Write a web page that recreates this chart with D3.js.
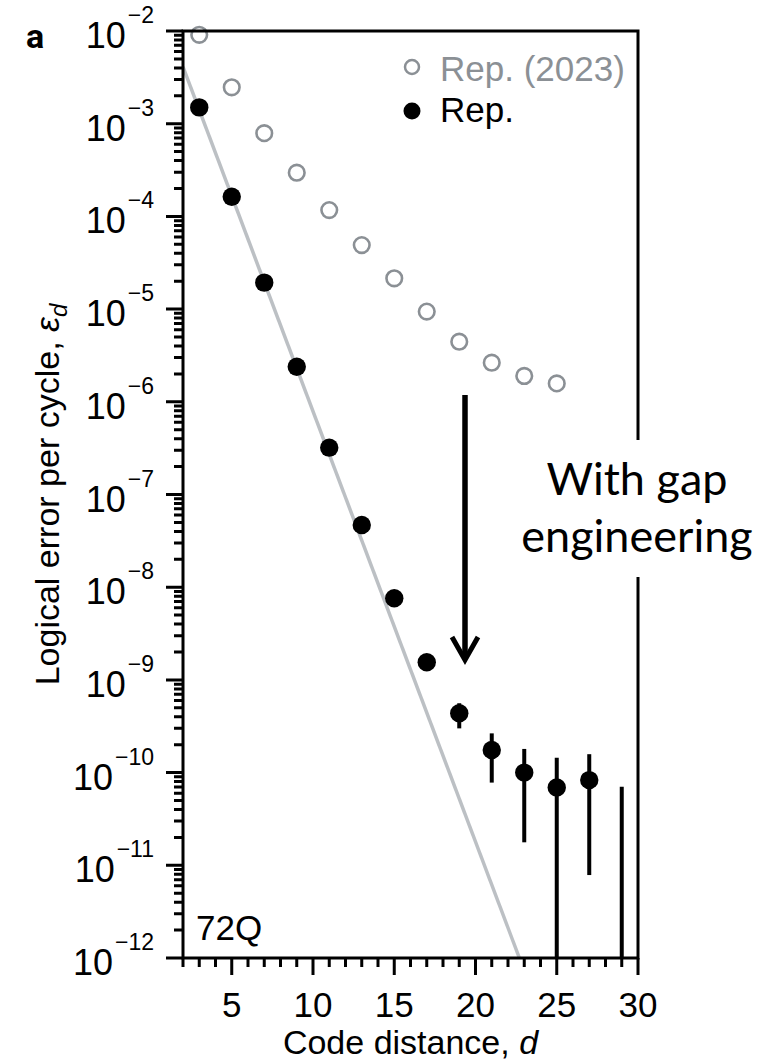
<!DOCTYPE html>
<html>
<head>
<meta charset="utf-8">
<script src="https://cdn.jsdelivr.net/npm/d3@7"></script>
<style>
  body { margin: 0; background: #fff; }
  svg { display: block; }
  svg text { font-family: "Liberation Sans", Arial, sans-serif; }
</style>
</head>
<body>
<svg class="chart" width="768" height="1064"></svg>
<script>
// code distance on x, logical error per cycle on y
var xDomain = [2, 30];
var yDomain = [1e-12, 1e-2];
var xMajorTicks = [5, 10, 15, 20, 25, 30];
var yMajorExponents = [-12, -11, -10, -9, -8, -7, -6, -5, -4, -3, -2];

// Rep. (2023), open circles
var oldDistances = [3, 5, 7, 9, 11, 13, 15, 17, 19, 21, 23, 25];
var oldErrors = [9.1e-3, 2.47e-3, 7.9e-4, 2.96e-4, 1.17e-4, 4.9e-5, 2.15e-5, 9.4e-6, 4.45e-6, 2.64e-6, 1.9e-6, 1.58e-6];

// Rep., filled circles with error bars (null = no visible bar / no point)
var repDistances = [3, 5, 7, 9, 11, 13, 15, 17, 19, 21, 23, 25, 27, 29];
var repErrors = [1.5e-3, 1.63e-4, 1.93e-5, 2.39e-6, 3.2e-7, 4.69e-8, 7.59e-9, 1.55e-9, 4.36e-10, 1.75e-10, 1.0e-10, 6.9e-11, 8.3e-11, null];
var repUpper = [null, null, null, null, null, null, null, null, 5.6e-10, 2.65e-10, 1.8e-10, 1.45e-10, 1.58e-10, 7.05e-11];
var repLower = [null, null, null, null, null, null, null, null, 3.0e-10, 7.8e-11, 1.77e-11, 1e-13, 7.85e-12, 1e-13];

// exponential fit (gray line), two end points
var fitDistances = [2, 22.7];
var fitErrors = [4.1e-3, 1e-12];

var legendLabels = ['Rep. (2023)', 'Rep.'];
var noteLines = ['With gap', 'engineering'];

(function() {
  var grey = '#8b9095';
  var svg = d3.select('.chart');

  var x0 = 183, x1 = 638, y0 = 31, y1 = 958;

  var x = d3.scaleLinear().domain(xDomain).range([x0, x1]);
  var y = d3.scaleLog().domain(yDomain).range([y1, y0]);

  // tick marks, one path built from the scales
  var yTicks = y.ticks(50).map(function(v) {
    var l = Math.log10(v);
    return { v: v, major: Math.abs(l - Math.round(l)) < 1e-6 };
  });
  var xTicks = d3.range(xDomain[0], xDomain[1] + 1).map(function(v) {
    return { v: v, major: xMajorTicks.indexOf(v) >= 0 };
  });

  var tickPath = yTicks.map(function(t) {
    return 'M' + (x0 - (t.major ? 17 : 9)) + ',' + y(t.v) + 'H' + x0;
  }).concat(xTicks.map(function(t) {
    return 'M' + x(t.v) + ',' + y1 + 'V' + (y1 + (t.major ? 17 : 9));
  })).join('');

  svg.append('path')
    .attr('d', tickPath)
    .attr('fill', 'none')
    .attr('stroke', '#000')
    .attr('stroke-width', 3);

  // fit line, clipped to the plot box
  svg.append('clipPath').attr('id', 'plot-clip')
    .append('rect')
      .attr('x', x0).attr('y', y0)
      .attr('width', x1 - x0).attr('height', y1 - y0);

  svg.append('path')
    .datum(d3.zip(fitDistances, fitErrors))
    .attr('clip-path', 'url(#plot-clip)')
    .attr('fill', 'none')
    .attr('stroke', '#bcc0c4')
    .attr('stroke-width', 3.5)
    .attr('d', d3.line()
      .x(function(d) { return x(d[0]); })
      .y(function(d) { return y(d[1]); }));

  // old data
  svg.append('g').selectAll('circle')
    .data(d3.zip(oldDistances, oldErrors))
    .enter().append('circle')
      .attr('cx', function(d) { return x(d[0]); })
      .attr('cy', function(d) { return y(d[1]); })
      .attr('r', 7.8)
      .attr('fill', '#fff')
      .attr('stroke', grey)
      .attr('stroke-width', 2.6);

  // new data with error bars
  var rep = repDistances.map(function(d, i) {
    return { d: d, eps: repErrors[i], hi: repUpper[i], lo: repLower[i] };
  });

  svg.append('g').selectAll('line')
    .data(rep.filter(function(p) { return p.hi !== null; }))
    .enter().append('line')
      .attr('x1', function(p) { return x(p.d); })
      .attr('x2', function(p) { return x(p.d); })
      .attr('y1', function(p) { return y(p.hi); })
      .attr('y2', function(p) { return Math.min(y(p.lo), y1); })
      .attr('stroke', '#000')
      .attr('stroke-width', 4);

  svg.append('g').selectAll('circle')
    .data(rep.filter(function(p) { return p.eps !== null; }))
    .enter().append('circle')
      .attr('cx', function(p) { return x(p.d); })
      .attr('cy', function(p) { return y(p.eps); })
      .attr('r', 9.2)
      .attr('fill', '#000');

  // frame
  svg.append('rect')
    .attr('x', x0).attr('y', y0)
    .attr('width', x1 - x0).attr('height', y1 - y0)
    .attr('fill', 'none')
    .attr('stroke', '#000')
    .attr('stroke-width', 3);

  // x tick labels
  svg.append('g').selectAll('text')
    .data(xMajorTicks)
    .enter().append('text')
      .attr('x', function(v) { return x(v); })
      .attr('y', 1017)
      .attr('text-anchor', 'middle')
      .attr('font-size', 35)
      .text(function(v) { return v; });

  // y tick labels: 10 with superscript exponent
  var yLabels = svg.append('g').selectAll('text')
    .data(yMajorExponents)
    .enter().append('text')
      .attr('x', 154)
      .attr('y', function(e) { return y(Math.pow(10, e)) + 17; })
      .attr('text-anchor', 'end')
      .attr('font-size', 36);
  yLabels.append('tspan').text('10');
  yLabels.append('tspan')
    .attr('dx', 2)
    .attr('dy', -25)
    .attr('font-size', 23)
    .text(function(e) { return '\u2212' + Math.abs(e); });

  // legend
  var legend = svg.append('g');
  legend.append('circle')
    .attr('cx', 412).attr('cy', 67).attr('r', 7)
    .attr('fill', '#fff').attr('stroke', grey).attr('stroke-width', 2.5);
  legend.append('circle')
    .attr('cx', 412).attr('cy', 111).attr('r', 8.5)
    .attr('fill', '#000');
  legend.selectAll('text')
    .data(legendLabels)
    .enter().append('text')
      .attr('x', 440)
      .attr('y', function(d, i) { return 81 + i * 41; })
      .attr('font-size', 35)
      .attr('fill', function(d, i) { return i === 0 ? grey : '#000'; })
      .text(function(d) { return d; });

  svg.append('text')
    .attr('x', 196).attr('y', 940)
    .attr('font-size', 35)
    .text('72Q');

  // axis titles
  svg.append('text')
    .attr('x', (x0 + x1) / 2).attr('y', 1054)
    .attr('text-anchor', 'middle')
    .attr('font-size', 34)
    .call(function(t) {
      t.append('tspan').text('Code distance, ');
      t.append('tspan').attr('font-style', 'italic').text('d');
    });

  svg.append('text')
    .attr('transform', 'translate(59,' + (y0 + y1) / 2 + ') rotate(-90)')
    .attr('text-anchor', 'middle')
    .attr('font-size', 34)
    .call(function(t) {
      t.append('tspan').text('Logical error per cycle, ');
      t.append('tspan').attr('font-style', 'italic').text('\u03b5');
      t.append('tspan').attr('font-style', 'italic').attr('font-size', 24).attr('dy', 8).text('d');
    });

  svg.append('text')
    .attr('x', 26).attr('y', 48)
    .attr('font-size', 34)
    .attr('font-weight', 700)
    .style('font-family', 'Roboto, "Liberation Sans", sans-serif')
    .text('a');

  // annotation
  svg.append('rect')
    .attr('x', 515).attr('y', 440)
    .attr('width', 253).attr('height', 137)
    .attr('fill', '#fff');

  svg.append('g').selectAll('text')
    .data(noteLines)
    .enter().append('text')
      .attr('x', 637)
      .attr('y', function(d, i) { return 495 + i * 57; })
      .attr('text-anchor', 'middle')
      .attr('font-size', 45)
      .style('font-family', 'Lato, "Open Sans", sans-serif')
      .text(function(d) { return d; });

  svg.append('line')
    .attr('x1', 465).attr('x2', 465)
    .attr('y1', 395).attr('y2', 658)
    .attr('stroke', '#000').attr('stroke-width', 5.5);
  svg.append('path')
    .attr('d', 'M452,637 L465,660 L478,637')
    .attr('fill', 'none')
    .attr('stroke', '#000')
    .attr('stroke-width', 5);
})();
</script>
</body>
</html>
